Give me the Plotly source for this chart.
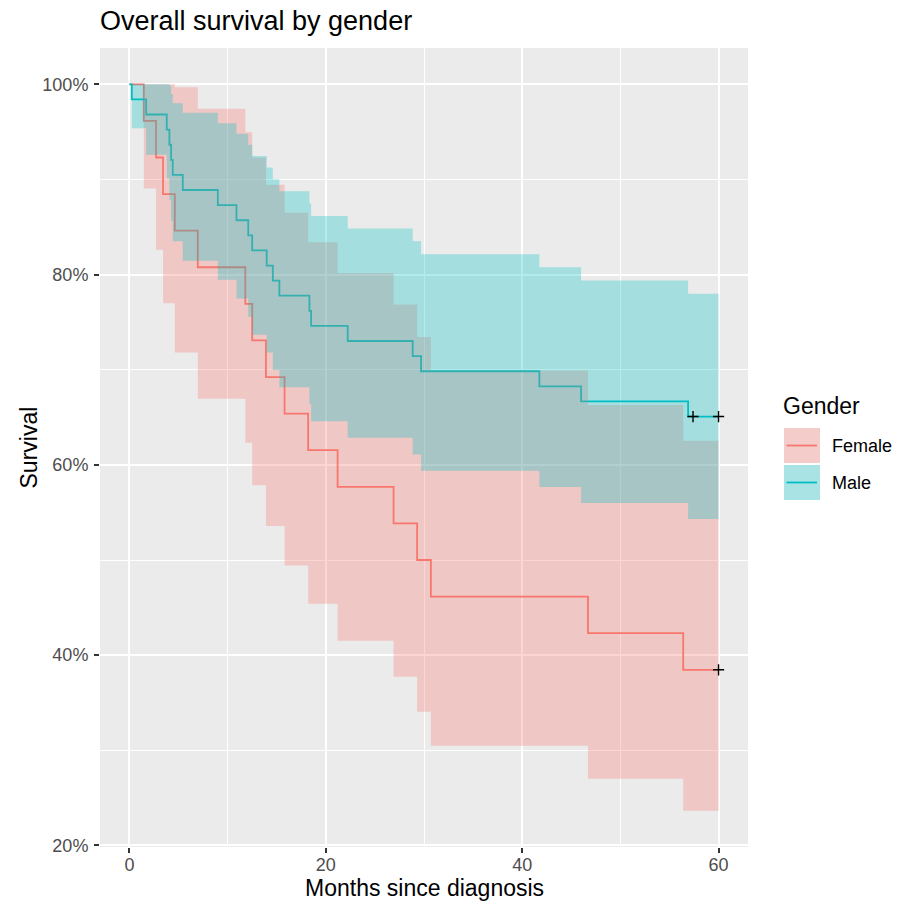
import plotly.graph_objects as go

# Kaplan-Meier estimates (survival in %), one value after each event time
female_times = [1.46, 2.71, 3.42, 4.62, 6.96, 11.8, 12.5, 13.9, 15.8, 18.2,
                21.2, 26.9, 29.3, 30.7, 46.7, 56.4]
female_surv = [96.15, 92.31, 88.46, 84.62, 80.77, 76.92, 73.08, 69.23, 65.38,
               61.54, 57.69, 53.85, 50.00, 46.15, 42.31, 38.46]
female_upper = [100.0, 100.0, 100.0, 99.69, 97.43, 94.95, 92.28, 89.45, 86.49,
                83.39, 80.18, 76.86, 73.44, 69.91, 66.28, 62.54]
female_lower = [89.04, 82.61, 76.99, 71.82, 66.96, 62.32, 57.87, 53.58, 49.43,
                45.41, 41.51, 37.72, 34.04, 30.47, 27.01, 23.65]
female_censor_times = [60.0]

male_times = [0.24, 1.7, 3.8, 4.07, 4.24, 4.41, 5.43, 9.0, 10.9, 12.1, 12.5,
              13.98, 14.6, 15.27, 18.33, 18.5, 22.23, 28.85, 29.7, 41.75,
              46.0, 56.9]
male_surv = [98.41, 96.83, 95.24, 93.65, 92.06, 90.48, 88.89, 87.30, 85.71,
             84.13, 82.54, 80.95, 79.37, 77.78, 76.19, 74.60, 73.02, 71.43,
             69.84, 68.25, 66.67, 65.08]
male_upper = [100.0, 100.0, 100.0, 99.87, 98.99, 98.02, 97.00, 95.92, 94.81,
              93.65, 92.47, 91.25, 90.01, 88.75, 87.47, 86.16, 84.84, 83.50,
              82.15, 80.77, 79.39, 77.98]
male_lower = [95.38, 92.59, 90.12, 87.82, 85.62, 83.51, 81.46, 79.46, 77.49,
              75.57, 73.68, 71.81, 69.98, 68.16, 66.37, 64.59, 62.84, 61.10,
              59.38, 57.68, 55.99, 54.31]
male_censor_times = [57.4, 60.0]

follow_up_end = 60.0
y_ticks = [20, 40, 60, 80, 100]
y_ticktext = ["20%", "40%", "60%", "80%", "100%"]
x_ticks = [0, 20, 40, 60]

RED = "#F8766D"
TEAL = "#00BFC4"
RED_FILL = "rgba(248,118,109,0.3)"
TEAL_FILL = "rgba(0,191,196,0.3)"
FONT = "Liberation Sans, Arial, sans-serif"


def step_path(times, values, start, end):
    xs, ys = [0.0], [start]
    for t, v in zip(times, values):
        xs += [t, t]
        ys += [ys[-1], v]
    xs.append(end)
    ys.append(ys[-1])
    return xs, ys


def ribbon(times, upper, lower, end):
    ux, uy = step_path(times, upper, 100.0, end)
    lx, ly = step_path(times, lower, 100.0, end)
    return ux + lx[::-1], uy + ly[::-1]


fig = go.Figure()

# survival curves first, confidence bands drawn over them
for times, surv, color in [(female_times, female_surv, RED),
                           (male_times, male_surv, TEAL)]:
    fig.add_trace(go.Scatter(
        x=[0.0] + times + [follow_up_end],
        y=[100.0] + surv + [surv[-1]],
        mode="lines", line=dict(color=color, width=1.8, shape="hv"),
        showlegend=False, hoverinfo="skip"))

for times, up, lo, fill in [(female_times, female_upper, female_lower, RED_FILL),
                            (male_times, male_upper, male_lower, TEAL_FILL)]:
    bx, by = ribbon(times, up, lo, follow_up_end)
    fig.add_trace(go.Scatter(
        x=bx, y=by, mode="lines", fill="toself", fillcolor=fill,
        line=dict(width=0), showlegend=False, hoverinfo="skip"))

# censoring marks
for ctimes, surv in [(female_censor_times, female_surv),
                     (male_censor_times, male_surv)]:
    fig.add_trace(go.Scatter(
        x=ctimes, y=[surv[-1]] * len(ctimes), mode="markers",
        marker=dict(symbol="cross-thin", size=8,
                    line=dict(width=1.4, color="black")),
        showlegend=False, hoverinfo="skip"))

all_lower = female_lower + male_lower
y_lo, y_hi = min(all_lower), 100.0
y_pad = 0.05 * (y_hi - y_lo)
x_pad = 0.05 * follow_up_end

# layout geometry (pixels)
W, H = 899, 908
L, R, T, B = 100, 151, 48, 61
PW, PH = W - L - R, H - T - B


def px(x):
    return (x - L) / PW


def py(y):
    return (H - B - y) / PH


axis_common = dict(
    showline=False, zeroline=False, ticks="outside", ticklen=5,
    tickwidth=1.6, tickcolor="#333333", gridcolor="white", gridwidth=2,
    tickfont=dict(family=FONT, size=18, color="#4D4D4D"),
)

fig.update_layout(
    width=W, height=H,
    margin=dict(l=L, r=R, t=T, b=B),
    paper_bgcolor="white", plot_bgcolor="#EBEBEB",
    showlegend=False,
    xaxis=dict(range=[-x_pad, follow_up_end + x_pad], tickvals=x_ticks,
               ticklabelstandoff=-4,
               minor=dict(tickvals=[10, 30, 50], showgrid=True,
                          gridcolor="white", gridwidth=1, ticks=""),
               **axis_common),
    yaxis=dict(range=[y_lo - y_pad, y_hi + y_pad], tickvals=y_ticks,
               ticktext=y_ticktext, ticklabelstandoff=2,
               minor=dict(tickvals=[30, 50, 70, 90], showgrid=True,
                          gridcolor="white", gridwidth=1, ticks=""),
               **axis_common),
)

annotations = [
    dict(text="Overall survival by gender", x=0, xref="paper", xanchor="left",
         xshift=-2, y=py(21), yref="paper", yanchor="middle", showarrow=False,
         font=dict(family=FONT, size=27, color="black")),
    dict(text="Months since diagnosis", x=0.5, xref="paper", xanchor="center",
         y=py(888), yref="paper", yanchor="middle", showarrow=False,
         font=dict(family=FONT, size=23, color="black")),
    dict(text="Survival", x=px(28), xref="paper", xanchor="center",
         y=0.5, yref="paper", yanchor="middle", textangle=-90,
         showarrow=False, font=dict(family=FONT, size=23, color="black")),
    dict(text="Gender", x=px(781), xref="paper", xanchor="left",
         y=py(406), yref="paper", yanchor="middle", showarrow=False,
         font=dict(family=FONT, size=23, color="black")),
]

shapes = []
legend_rows = [("Female", RED, RED_FILL, 428, 463),
               ("Male", TEAL, TEAL_FILL, 465, 500)]
for label, color, fill, top, bottom in legend_rows:
    for fc in ["#F2F2F2", fill]:
        shapes.append(dict(type="rect", xref="paper", yref="paper",
                           x0=px(784), x1=px(820), y0=py(bottom), y1=py(top),
                           fillcolor=fc, line=dict(width=0)))
    mid = (top + bottom) / 2
    shapes.append(dict(type="line", xref="paper", yref="paper",
                       x0=px(786.5), x1=px(817), y0=py(mid), y1=py(mid),
                       line=dict(color=color, width=1.8)))
    annotations.append(dict(text=label, x=px(830), xref="paper",
                            xanchor="left", y=py(mid), yref="paper",
                            yanchor="middle", showarrow=False,
                            font=dict(family=FONT, size=18, color="black")))

fig.update_layout(annotations=annotations, shapes=shapes)

fig.write_html("out.html")
